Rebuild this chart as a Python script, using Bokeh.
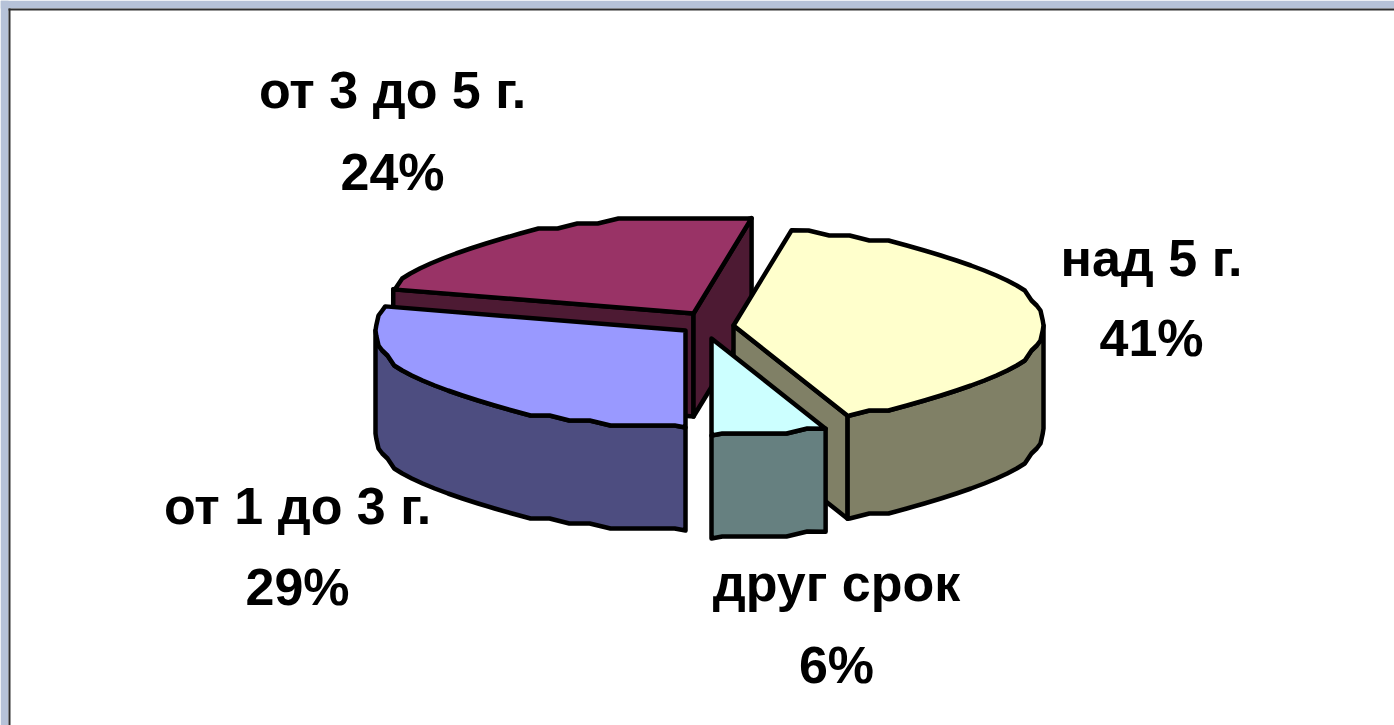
import math
from bokeh.plotting import figure
from bokeh.models import Range1d
from bokeh.core.properties import value
from bokeh.embed import file_html
from bokeh.resources import INLINE

# data
labels = ["над 5 г.", "друг срок", "от 1 до 3 г.", "от 3 до 5 г."]
values = [41, 6, 29, 24]

# layout / style
W, H = 1394, 725
START_DEG = 79.2
RX, RY, DEPTH = 310.0, 97.0, 103.0
apex_x = [733, 711, 685, 693]
apex_y = [325, 338, 330, 313]
top_colors = ["#ffffcc", "#ccffff", "#9999ff", "#993366"]
side_colors = ["#808066", "#668080", "#4d4d80", "#4d1a33"]
label_x = [1151, 836, 297, 392]
label_y1 = [257, 582, 505, 89]
label_y2 = [337, 664, 586, 171]
LW = 4.5
STEP_DEG = 4.0
GRID = 5.0

p = figure(width=W, height=H, output_backend="svg", toolbar_location=None,
           x_range=Range1d(0, W), y_range=Range1d(H, 0),
           min_border=0, outline_line_color=None, background_fill_color="white")
p.axis.visible = False
p.grid.visible = False

total = sum(values)
spans = []
a = START_DEG
for v in values:
    b = a - 360.0 * v / total
    spans.append((a, b))
    a = b

def rim(cx, cy, a0, a1, dz=0.0):
    # sample on a fixed angular lattice so that top and side rims coincide
    lo, hi = min(a0, a1), max(a0, a1)
    k0 = math.floor(lo / STEP_DEG) + 1
    k1 = math.ceil(hi / STEP_DEG) - 1
    angs = [lo] + [k * STEP_DEG for k in range(k0, k1 + 1)] + [hi]
    if a0 > a1:
        angs.reverse()
    xs, ys = [], []
    for i, deg in enumerate(angs):
        t = math.radians(deg)
        y = RY * math.sin(t)
        if 0 < i < len(angs) - 1:
            y = round(y / GRID) * GRID
        xs.append(cx + RX * math.cos(t))
        ys.append(cy - y + dz)
    return xs, ys

def poly(xs, ys, color):
    p.patch(xs, ys, fill_color=color, line_color="black", line_width=LW, line_join="round")

def top(i):
    (a0, b0), cx, cy = spans[i], apex_x[i], apex_y[i]
    xs, ys = rim(cx, cy, a0, b0)
    poly([cx] + xs, [cy] + ys, top_colors[i])

def outer(i):
    (a0, b0), cx, cy = spans[i], apex_x[i], apex_y[i]
    hi, lo = min(a0, 0.0), max(b0, -180.0)
    xs, ys = rim(cx, cy, hi, lo)
    xb, yb = rim(cx, cy, lo, hi, DEPTH)
    poly(xs + xb, ys + yb, side_colors[i])

def cut(i, angle):
    cx, cy = apex_x[i], apex_y[i]
    t = math.radians(angle)
    x1, y1 = cx + RX * math.cos(t), cy - RY * math.sin(t)
    poly([cx, x1, x1, cx], [cy, y1, y1 + DEPTH, cy + DEPTH], side_colors[i])

# painter's order: back slice first
yellow, cyan, blue, red = 0, 1, 2, 3
cut(red, spans[red][0])
cut(red, spans[red][1])
top(red)
cut(yellow, spans[yellow][1])
outer(yellow)
top(yellow)
outer(blue)
top(blue)
outer(cyan)
top(cyan)

# window frame
p.quad(left=[0, 0], right=[W, 8], top=[0, 0], bottom=[8, H], fill_color="#b6c2d8", line_color=None)
p.quad(left=[8, 8], right=[W, 10], top=[8, 8], bottom=[10, H], fill_color="#303030", line_color=None)

# labels
font = value("Liberation Sans")
for i, name in enumerate(labels):
    pct = f"{round(100 * values[i] / total)}%"
    for txt, y in ((name, label_y1[i]), (pct, label_y2[i])):
        p.text([label_x[i]], [y], text=[txt], text_font=font, text_font_style="bold",
               text_font_size="52px", text_color="black", text_align="center",
               text_baseline="alphabetic")

open("out.html", "w").write(file_html(p, INLINE))
